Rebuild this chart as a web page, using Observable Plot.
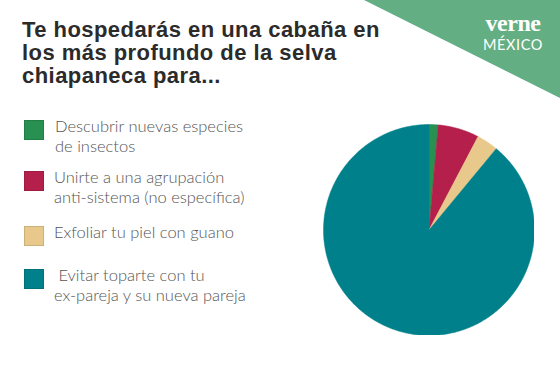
<!DOCTYPE html>
<html>
<head>
<meta charset="utf-8">
<script src="https://cdn.jsdelivr.net/npm/d3@7"></script>
<script src="https://cdn.jsdelivr.net/npm/@observablehq/plot@0.6"></script>
<style>
  html, body { margin: 0; padding: 0; background: #fff; }
  #wrap { position: relative; width: 560px; height: 380px; overflow: hidden; background: #fff; }
  #title { position: absolute; left: 22px; top: 18px; font-family: "Liberation Sans", Arial, sans-serif; font-weight: bold; font-size: 22px; line-height: 23px; color: #2b2b2b; letter-spacing: 0.45px; }
  #logo { position: absolute; left: 0; top: 0; }
  #legend { position: absolute; left: 0; top: 0; width: 320px; height: 380px; }
  .item { position: absolute; left: 24px; }
  .sw { position: absolute; left: 0; top: 0; width: 20px; height: 20px; box-sizing: border-box; border: 1px solid rgba(0,0,0,0.12); }
  .lb { position: absolute; left: 30px; top: -4px; font-family: Lato, "Open Sans", sans-serif; font-weight: 300; font-size: 16.5px; line-height: 20px; color: #555; white-space: nowrap; }
  #pie { position: absolute; left: 323px; top: 124px; }
</style>
</head>
<body>
<div id="wrap">
  <svg id="logo" width="560" height="380">
    <polygon points="364,0 560,0 560,98" fill="#64ae83"></polygon>
    <text x="513" y="31" text-anchor="middle" font-family="Liberation Serif, DejaVu Serif, serif" font-weight="bold" font-size="24" fill="#fff" letter-spacing="-0.5">verne</text>
    <text x="513" y="50" text-anchor="middle" font-family="Lato, Open Sans, sans-serif" font-weight="400" font-size="14.5" fill="#fff" letter-spacing="0.6">MÉXICO</text>
  </svg>
  <div id="title">Te hospedarás en una cabaña en<br>los más profundo de la selva<br>chiapaneca para...</div>
  <div id="legend"></div>
  <div id="pie"></div>
</div>
<script>
// Data
const categories = [
  "Descubrir nuevas especies de insectos",
  "Unirte a una agrupación anti-sistema (no específica)",
  "Exfoliar tu piel con guano",
  "Evitar toparte con tu ex-pareja y su nueva pareja"
];
const legendLines = [
  ["Descubrir nuevas especies", "de insectos"],
  ["Unirte a una agrupación", "anti-sistema (no específica)"],
  ["Exfoliar tu piel con guano"],
  ["\u00a0Evitar toparte con tu", "ex-pareja y su nueva pareja"]
];
const values = [1.4, 6.3, 3.3, 89.0];
const colors = ["#289050", "#b41f4b", "#e9c98b", "#00808a"];

// Legend
const legendTops = [120, 171, 226, 269];
const legend = document.getElementById("legend");
categories.forEach((c, i) => {
  const it = document.createElement("div");
  it.className = "item";
  it.style.top = legendTops[i] + "px";
  const sw = document.createElement("div");
  sw.className = "sw";
  sw.style.background = colors[i];
  const lb = document.createElement("div");
  lb.className = "lb";
  lb.innerHTML = legendLines[i].join("<br>");
  if (i === 0) lb.style.left = "31px";
  it.appendChild(sw); it.appendChild(lb);
  legend.appendChild(it);
});

// Pie geometry via d3.pie, drawn with Plot
const data = categories.map((c, i) => ({category: c, value: values[i]}));
const arcs = d3.pie().value(d => d.value).sort(null)(data);
const pts = [];
arcs.forEach(a => {
  const n = Math.max(4, Math.ceil((a.endAngle - a.startAngle) / 0.01));
  pts.push({category: a.data.category, x: 0, y: 0});
  for (let k = 0; k <= n; k++) {
    const t = a.startAngle + (a.endAngle - a.startAngle) * k / n;
    pts.push({category: a.data.category, x: Math.sin(t), y: Math.cos(t)});
  }
  pts.push({category: a.data.category, x: 0, y: 0});
});

const size = 211;
const chart = Plot.plot({
  width: size,
  height: size,
  margin: 0,
  x: {domain: [-1, 1], axis: null},
  y: {domain: [-1, 1], axis: null},
  color: {domain: categories, range: colors},
  marks: [
    Plot.line(pts, {x: "x", y: "y", z: "category", fill: "category", stroke: "category", strokeWidth: 0.5, curve: "linear"})
  ]
});
document.getElementById("pie").appendChild(chart);
</script>
</body>
</html>
